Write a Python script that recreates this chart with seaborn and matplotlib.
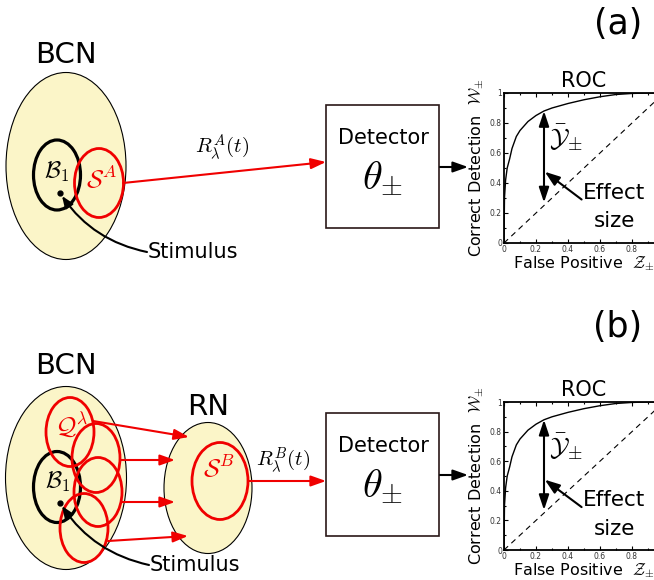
import matplotlib
matplotlib.use("Agg")
import matplotlib.pyplot as plt
from matplotlib.patches import Ellipse, Rectangle
import seaborn as sns

sns.set_theme(style="white")
plt.rcParams["font.family"] = ["DejaVu Sans"]
plt.rcParams["mathtext.fontset"] = "cm"
plt.rcParams["text.color"] = "black"
plt.rcParams["axes.labelcolor"] = "black"
plt.rcParams["axes.titlecolor"] = "black"

# ROC curve: false positive rate against correct detection rate
false_positive = [0.0, 0.003, 0.01, 0.02, 0.035, 0.05, 0.077, 0.1, 0.15, 0.2,
                  0.25, 0.3, 0.4, 0.5, 0.6, 0.7, 0.8, 0.9, 1.0]
correct_detection = [0.0, 0.3, 0.42, 0.5, 0.56, 0.63, 0.71, 0.75, 0.81, 0.85,
                     0.88, 0.9, 0.93, 0.955, 0.975, 0.99, 0.997, 1.0, 1.0]
# chance line
chance_fp = [0.0, 1.0]
chance_cd = [0.0, 1.0]
tick_values = [0.0, 0.2, 0.4, 0.6, 0.8, 1.0]
tick_labels = ["0", "0.2", "0.4", "0.6", "0.8", "1"]
# effect size marker: gap between the curve and chance at one operating point
effect_fp = 0.25
effect_top = 0.88
effect_bottom = 0.27

W, H = 654, 580
fig = plt.figure(figsize=(W / 100, H / 100), dpi=100)
ax = fig.add_axes([0, 0, 1, 1])
ax.set_xlim(0, W)
ax.set_ylim(H, 0)
ax.axis("off")

YELLOW = "#fbf5c8"
RED = "#f00000"


def arrow(x0, y0, x1, y1, color, lw=1.5, hl=0.9, hw=0.32, target=None, **kw):
    (target or ax).annotate(
        "", xy=(x1, y1), xytext=(x0, y0),
        arrowprops=dict(arrowstyle=f"-|>,head_length={hl},head_width={hw}",
                        color=color, lw=lw, shrinkA=0, shrinkB=0,
                        mutation_scale=10, **kw),
        annotation_clip=False)


def ellipse(cx, cy, w, h, ec, lw, fc="none", z=2):
    ax.add_patch(Ellipse((cx, cy), w, h, fc=fc, ec=ec, lw=lw, zorder=z))


def stimulus(dot_x, dot_y, tx, ty):
    ax.plot([dot_x], [dot_y], "o", color="black", ms=3.5, zorder=6)
    ax.annotate("", xy=(dot_x + 2, dot_y + 3), xytext=(tx - 1, ty),
                arrowprops=dict(arrowstyle="-|>,head_length=0.7,head_width=0.28",
                                color="black", lw=1.5, shrinkA=0, shrinkB=0,
                                mutation_scale=10,
                                connectionstyle="arc3,rad=-0.2"),
                zorder=6)
    ax.text(tx, ty, "Stimulus", fontsize=15, ha="left", va="center", zorder=6)


def detector(top):
    ax.add_patch(Rectangle((326, top), 113, 123, fc="white", ec="#2a1818",
                           lw=1.2, zorder=3))
    ax.text(383, top + 33, "Detector", fontsize=15, ha="center", va="center", zorder=4)
    ax.text(383, top + 72, r"$\theta_{\pm}$", fontsize=29, ha="center",
            va="center", zorder=4)
    arrow(440, top + 62, 468, top + 62, "black", lw=1.5)


def roc(bottom_px, top_px):
    rect = [504 / W, (H - bottom_px) / H, 160 / W, (bottom_px - top_px) / H]
    r = fig.add_axes(rect)
    sns.lineplot(x=false_positive, y=correct_detection, ax=r, color="black",
                 lw=1.0, estimator=None, sort=False)
    sns.lineplot(x=chance_fp, y=chance_cd, ax=r, color="black", lw=0.8,
                 linestyle=(0, (5, 4)), estimator=None)
    r.set_xlim(0, 1)
    r.set_ylim(0, 1)
    r.set_xticks(tick_values)
    r.set_xticklabels(tick_labels)
    r.set_yticks(tick_values)
    r.set_yticklabels(tick_labels)
    r.set_xticks([0.1, 0.3, 0.5, 0.7, 0.9], minor=True)
    r.set_yticks([0.1, 0.3, 0.5, 0.7, 0.9], minor=True)
    r.tick_params(which="both", direction="in", top=True, right=True,
                  bottom=True, left=True, color="black", width=0.8)
    r.tick_params(which="major", length=3, labelsize=5.5, pad=1.5,
                  labelcolor="#333333")
    r.tick_params(which="minor", length=1.5)
    for s in r.spines.values():
        s.set_color("black")
        s.set_linewidth(1.3)
    r.set_title("ROC", fontsize=15, pad=4)
    r.set_xlabel(r"False Positive  $\mathcal{Z}_{\pm}$", fontsize=11.5, labelpad=0)
    r.set_ylabel(r"Correct Detection  $\mathcal{W}_{\pm}$", fontsize=11.5, labelpad=3)
    r.annotate("", xy=(effect_fp, effect_top), xytext=(effect_fp, effect_bottom),
               arrowprops=dict(arrowstyle="<|-|>,head_length=0.9,head_width=0.3",
                               color="black", lw=1.5, shrinkA=0, shrinkB=0,
                               mutation_scale=10))
    r.text(0.28, 0.70, r"$\bar{\mathcal{Y}}_{\pm}$", fontsize=19, ha="left",
           va="center")
    arrow(0.485, 0.29, effect_fp + 0.005, 0.475, "black", lw=1.5, target=r)
    r.text(0.69, 0.335, "Effect", fontsize=15.5, ha="center", va="center",
           clip_on=False)
    r.text(0.69, 0.145, "size", fontsize=15.5, ha="center", va="center",
           clip_on=False)
    return r


# ---------------- panel (a) ----------------
ax.text(618, 24, "(a)", fontsize=25, ha="center", va="center")
ax.text(66, 55, "BCN", fontsize=21, ha="center", va="center")
ellipse(66, 166, 120, 187, "black", 0.8, fc=YELLOW, z=1)
ellipse(57, 175, 47, 70, "black", 2.3)
ellipse(99, 183, 49, 69, RED, 2.0, z=3)
ax.text(57, 172, r"$\mathcal{B}_1$", fontsize=17, ha="center", va="center", zorder=5)
ax.text(101, 179, r"$\mathcal{S}^A$", fontsize=18, ha="center", va="center",
        color=RED, zorder=5)
stimulus(60, 193, 148, 252)
arrow(123, 183, 326, 162, RED, lw=1.5)
ax.text(222, 148, r"$R^{A}_{\lambda}(t)$", fontsize=15, ha="center", va="center")
detector(105)
roc(243, 93)

# ---------------- panel (b) ----------------
ax.text(618, 327, "(b)", fontsize=25, ha="center", va="center")
ax.text(66, 366, "BCN", fontsize=21, ha="center", va="center")
ellipse(66, 478, 121, 183, "black", 0.8, fc=YELLOW, z=1)
ellipse(57, 487, 47, 71, "black", 2.3)
for cx, cy in [(70, 432), (96, 458), (98, 492), (84, 528)]:
    ellipse(cx, cy, 48, 69, RED, 2.0, z=3)
ax.text(72, 425, r"$\mathcal{Q}^{\lambda}$", fontsize=18, ha="center",
        va="center", color=RED, zorder=5)
ax.text(58, 482, r"$\mathcal{B}_1$", fontsize=17, ha="center", va="center", zorder=5)
stimulus(60, 503, 150, 565)

ax.text(208, 407, "RN", fontsize=21, ha="center", va="center")
ellipse(208, 488, 88, 131, "black", 0.8, fc=YELLOW, z=1)
ellipse(220, 481, 56, 77, RED, 2.0, z=3)
ax.text(219, 469, r"$\mathcal{S}^B$", fontsize=18, ha="center", va="center",
        color=RED, zorder=5)
for x0, y0, x1, y1 in [(93, 421, 189, 437), (120, 460, 175, 460),
                       (122, 502, 175, 502), (108, 541, 188, 536)]:
    arrow(x0, y0, x1, y1, RED, lw=1.5)
arrow(248, 481, 326, 481, RED, lw=1.5)
ax.text(283, 461, r"$R^{B}_{\lambda}(t)$", fontsize=15, ha="center", va="center")
detector(413)
roc(550, 402)

fig.savefig("out.png", dpi=100)
